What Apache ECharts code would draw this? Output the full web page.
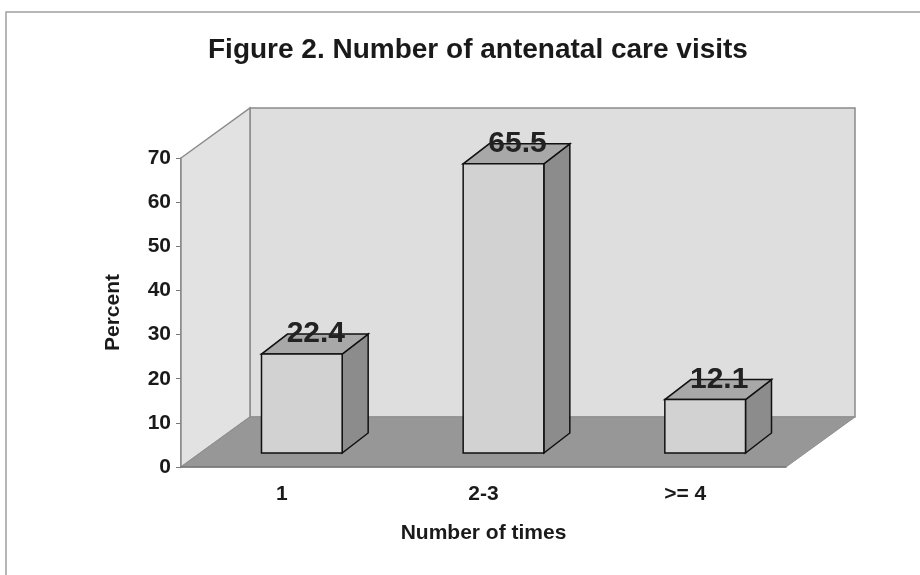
<!DOCTYPE html>
<html>
<head>
<meta charset="utf-8">
<script src="https://cdn.jsdelivr.net/npm/echarts@6/dist/echarts.min.js"></script>
<style>
  html, body { margin: 0; padding: 0; background: #fff; }
  #chart { width: 920px; height: 575px; }
</style>
</head>
<body>
<div id="chart"></div>
<script>
const categories = ['1', '2-3', '>= 4'];
const percents = [22.4, 65.5, 12.1];
const yTicks = { min: 0, max: 70, step: 10 };

// depth of the fake 3d box (pixels)
const DEPTH_X = 69;
const DEPTH_Y = -50;

const chart = echarts.init(document.getElementById('chart'));

function renderWalls(params, api) {
  const cs = params.coordSys;
  const x0 = cs.x, x1 = cs.x + cs.width;
  const y0 = cs.y, y1 = cs.y + cs.height;
  const stroke = '#8a8a8a';
  return {
    type: 'group',
    children: [
      {
        // back wall
        type: 'polygon',
        shape: { points: [[x0 + DEPTH_X, y0 + DEPTH_Y], [x1 + DEPTH_X, y0 + DEPTH_Y], [x1 + DEPTH_X, y1 + DEPTH_Y], [x0 + DEPTH_X, y1 + DEPTH_Y]] },
        style: { fill: '#dedede', stroke: stroke, lineWidth: 1.5 }
      },
      {
        // left wall
        type: 'polygon',
        shape: { points: [[x0, y0], [x0 + DEPTH_X, y0 + DEPTH_Y], [x0 + DEPTH_X, y1 + DEPTH_Y], [x0, y1]] },
        style: { fill: '#e2e2e2', stroke: stroke, lineWidth: 1.5 }
      },
      {
        // floor
        type: 'polygon',
        shape: { points: [[x0, y1], [x1, y1], [x1 + DEPTH_X, y1 + DEPTH_Y], [x0 + DEPTH_X, y1 + DEPTH_Y]] },
        style: { fill: '#979797', stroke: '#8f8f8f', lineWidth: 1 }
      }
    ]
  };
}

function renderBar(params, api) {
  const base = api.coord([api.value(0), 0]);
  const top = api.coord([api.value(0), api.value(1)]);
  const w = api.size([1, 0])[0] * 0.4;
  const dx = 26, dy = -20; // bar depth
  const l = base[0] - w / 2 + 20;
  const r = l + w;
  const b = base[1] - 14;
  const t = top[1] - 14;
  const edge = { stroke: '#111', lineWidth: 1.5 };
  return {
    type: 'group',
    children: [
      {
        type: 'polygon',
        shape: { points: [[r, t], [r + dx, t + dy], [r + dx, b + dy], [r, b]] },
        style: Object.assign({ fill: '#8c8c8c' }, edge)
      },
      {
        type: 'polygon',
        shape: { points: [[l, t], [r, t], [r + dx, t + dy], [l + dx, t + dy]] },
        style: Object.assign({ fill: '#a8a8a8' }, edge)
      },
      {
        type: 'rect',
        shape: { x: l, y: t, width: w, height: b - t },
        style: Object.assign({ fill: '#d2d2d2' }, edge)
      },
      {
        type: 'text',
        x: (l + r) / 2 + 14,
        y: t - 20,
        style: {
          text: String(api.value(1)),
          fill: '#222',
          font: 'bold 30px "Liberation Sans", Arial, sans-serif',
          align: 'center',
          verticalAlign: 'middle'
        }
      }
    ]
  };
}

const option = {
  animation: false,
  backgroundColor: '#fff',
  textStyle: { fontFamily: '"Liberation Sans", Arial, sans-serif' },
  title: {
    text: 'Figure 2. Number of antenatal care visits',
    left: 203,
    top: 31,
    textStyle: { fontSize: 28, fontWeight: 'bold', color: '#1a1a1a' }
  },
  graphic: [
    {
      type: 'rect',
      shape: { x: 6, y: 12, width: 1000, height: 1000 },
      style: { fill: 'none', stroke: '#a0a0a0', lineWidth: 1.5 },
      silent: true
    }
  ],
  grid: { left: 181, right: 134, top: 158, bottom: 108 },
  xAxis: {
    type: 'category',
    data: categories,
    name: 'Number of times',
    nameLocation: 'middle',
    nameGap: 56,
    nameTextStyle: { fontSize: 21, fontWeight: 'bold', color: '#1a1a1a' },
    axisLine: { lineStyle: { color: '#777', width: 1.5 } },
    axisTick: { length: 6, lineStyle: { color: '#777' } },
    axisLabel: { fontSize: 21, fontWeight: 'bold', color: '#1a1a1a', margin: 17 },
    z: 5
  },
  yAxis: {
    type: 'value',
    min: yTicks.min,
    max: yTicks.max,
    interval: yTicks.step,
    name: 'Percent',
    nameLocation: 'middle',
    nameGap: 57,
    nameRotate: 90,
    nameTextStyle: { fontSize: 21, fontWeight: 'bold', color: '#1a1a1a' },
    axisLine: { show: true, lineStyle: { color: '#777', width: 1.5 } },
    axisTick: { show: true, length: 5, lineStyle: { color: '#777' } },
    axisLabel: { fontSize: 21, fontWeight: 'bold', color: '#1a1a1a', margin: 10 },
    splitLine: { show: false }
  },
  series: [
    {
      type: 'custom',
      z: 1,
      silent: true,
      clip: false,
      renderItem: renderWalls,
      data: [[0, 0]]
    },
    {
      type: 'custom',
      z: 3,
      clip: false,
      renderItem: renderBar,
      encode: { x: 0, y: 1 },
      data: categories.map((c, i) => [i, percents[i]])
    }
  ]
};

chart.setOption(option);
</script>
</body>
</html>
